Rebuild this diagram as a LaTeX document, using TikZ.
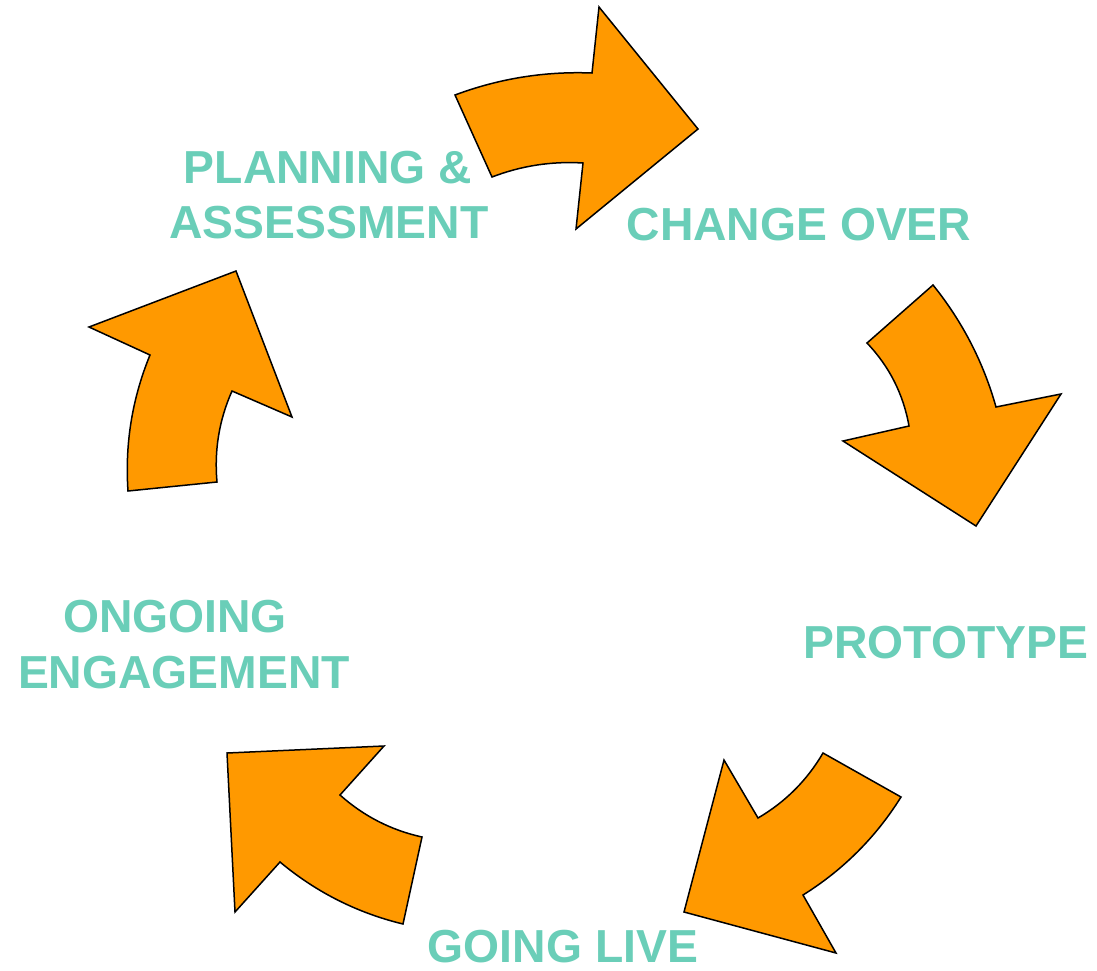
\documentclass[tikz,border=0pt]{standalone}
\usepackage{fontspec}
\usetikzlibrary{calc}
\setmainfont{Liberation Sans}
\definecolor{arroworange}{RGB}{255,153,0}
\definecolor{labelteal}{RGB}{106,206,184}
\begin{document}
\begin{tikzpicture}[x=1pt,y=-1pt,
  cyclearrow/.style={fill=arroworange,draw=black,line width=1.5pt,line join=miter},
  steplabel/.style={text=labelteal,font=\fontsize{46.3}{55}\selectfont\bfseries,inner sep=0pt,anchor=base,align=center}]
\useasboundingbox (0,0) rectangle (1097,970);
% arrow 1: top
\coordinate (a1) at (455,95); \coordinate (a1q) at (521.3,70.2); \coordinate (a1b) at (592,73);
\coordinate (a1c) at (583,163); \coordinate (a1r) at (536,160.1); \coordinate (a1d) at (492,177);
\draw[cyclearrow] (a1) .. controls ($(a1)!2/3!(a1q)$) and ($(a1b)!2/3!(a1q)$) .. (a1b) -- (599,7) -- (698,129) -- (576,229) -- (a1c) .. controls ($(a1c)!2/3!(a1r)$) and ($(a1d)!2/3!(a1r)$) .. (a1d) -- cycle;
% arrow 2: right
\coordinate (a2) at (933,285); \coordinate (a2q) at (977,339.6); \coordinate (a2b) at (996,407);
\coordinate (a2c) at (909,426); \coordinate (a2r) at (900.5,378.2); \coordinate (a2d) at (867,343);
\draw[cyclearrow] (a2) .. controls ($(a2)!2/3!(a2q)$) and ($(a2b)!2/3!(a2q)$) .. (a2b) -- (1061,394) -- (976,526) -- (843,441) -- (a2c) .. controls ($(a2c)!2/3!(a2r)$) and ($(a2d)!2/3!(a2r)$) .. (a2d) -- cycle;
% arrow 3: bottom right
\coordinate (a3) at (901,797); \coordinate (a3q) at (863.3,857.3); \coordinate (a3b) at (803,895);
\coordinate (a3c) at (758,818); \coordinate (a3r) at (799,794); \coordinate (a3d) at (823,753);
\draw[cyclearrow] (a3) .. controls ($(a3)!2/3!(a3q)$) and ($(a3b)!2/3!(a3q)$) .. (a3b) -- (836,953) -- (684,912) -- (724,760) -- (a3c) .. controls ($(a3c)!2/3!(a3r)$) and ($(a3d)!2/3!(a3r)$) .. (a3d) -- cycle;
% arrow 4: bottom left
\coordinate (a4) at (403,924); \coordinate (a4q) at (334.3,907.3); \coordinate (a4b) at (280,862);
\coordinate (a4c) at (340,795); \coordinate (a4r) at (375.5,826.7); \coordinate (a4d) at (422,837);
\draw[cyclearrow] (a4) .. controls ($(a4)!2/3!(a4q)$) and ($(a4b)!2/3!(a4q)$) .. (a4b) -- (235,912) -- (227,753) -- (384,746) -- (a4c) .. controls ($(a4c)!2/3!(a4r)$) and ($(a4d)!2/3!(a4r)$) .. (a4d) -- cycle;
% arrow 5: left
\coordinate (a5) at (150,355); \coordinate (a5q) at (123.2,420.4); \coordinate (a5b) at (128,491);
\coordinate (a5c) at (217,482); \coordinate (a5r) at (212.7,434.5); \coordinate (a5d) at (232,391);
\draw[cyclearrow] (a5c) .. controls ($(a5c)!2/3!(a5r)$) and ($(a5d)!2/3!(a5r)$) .. (a5d) -- (292,417) -- (236,271) -- (89,327) -- (a5) .. controls ($(a5)!2/3!(a5q)$) and ($(a5b)!2/3!(a5q)$) .. (a5b) -- cycle;
% labels
\node[steplabel] (plan1) at (328,183) {PLANNING \&};
\node[steplabel] (plan2) at (329,238.5) {ASSESSMENT};
\node[steplabel] (change) at (799,240) {CHANGE OVER};
\node[steplabel] (proto) at (946,658.5) {PROTOTYPE};
\node[steplabel] (live) at (563,962) {GOING LIVE};
\node[steplabel] (ongo1) at (175,632) {ONGOING};
\node[steplabel] (ongo2) at (184,688.5) {ENGAGEMENT};
\end{tikzpicture}
\end{document}
